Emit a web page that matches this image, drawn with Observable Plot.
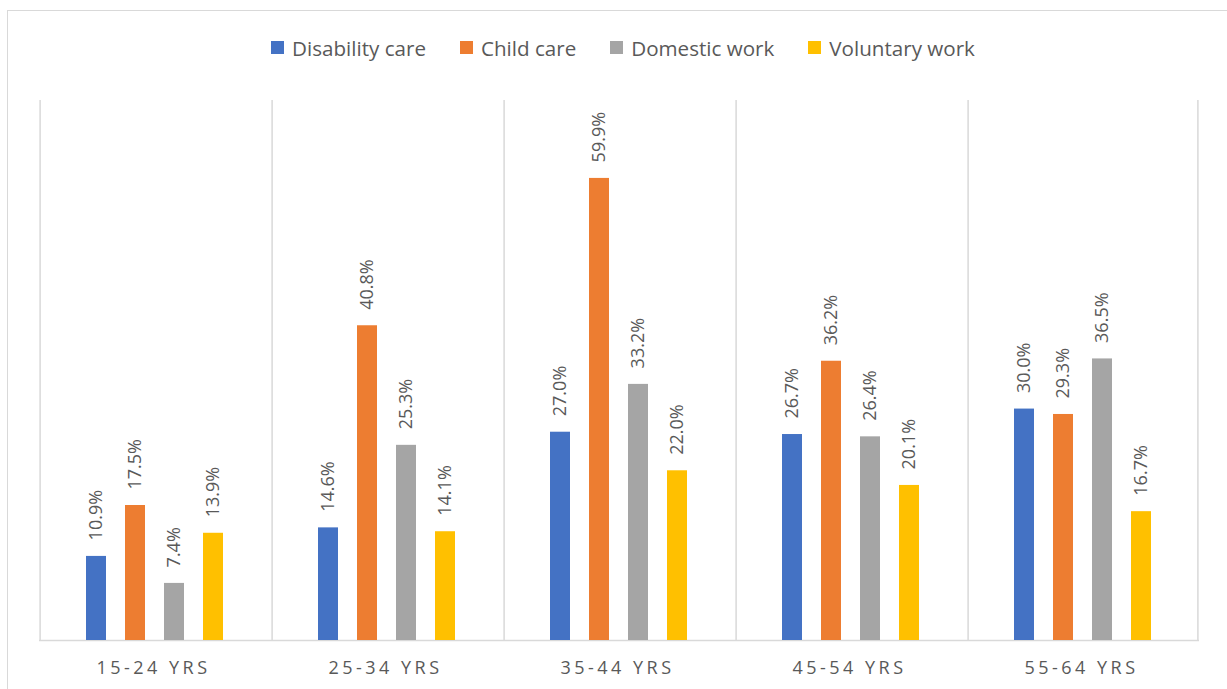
<!DOCTYPE html>
<html>
<head>
<meta charset="utf-8">
<script src="https://cdn.jsdelivr.net/npm/d3@7"></script>
<script src="https://cdn.jsdelivr.net/npm/@observablehq/plot@0.6"></script>
<style>
  html, body { margin: 0; padding: 0; background: #fff; overflow: hidden; width: 1227px; height: 689px; }
  #frame { position: absolute; left: 7px; top: 10px; width: 1400px; height: 900px;
           border-top: 1.5px solid #d9d9d9; border-left: 1.5px solid #d9d9d9; }
  #legend { position: absolute; left: 0; top: 31px; width: 1280px; }
  #legend .leg-swatches, #legend .leg-swatches-wrap { font-family: "Open Sans", sans-serif !important; font-size: 20.6px !important;
           color: #595959 !important; justify-content: center !important; margin: 0 !important; }
  #legend .leg-swatch { margin-right: 34px !important; }
  #legend .leg-swatch > svg { margin-right: 8px !important; }
  #chart { position: absolute; left: 0; top: 80px; }
</style>
</head>
<body>
<div id="frame"></div>
<div id="legend"></div>
<div id="chart"></div>
<script>
const ages = ["15-24 YRS", "25-34 YRS", "35-44 YRS", "45-54 YRS", "55-64 YRS"];
const types = ["Disability care", "Child care", "Domestic work", "Voluntary work"];
const disabilityCare = [10.9, 14.6, 27.0, 26.7, 30.0];
const childCare = [17.5, 40.8, 59.9, 36.2, 29.3];
const domesticWork = [7.4, 25.3, 33.2, 26.4, 36.5];
const voluntaryWork = [13.9, 14.1, 22.0, 20.1, 16.7];
const colors = ["#4472C4", "#ED7D31", "#A5A5A5", "#FFC000"];

const series = [disabilityCare, childCare, domesticWork, voluntaryWork];
const data = [];
ages.forEach((age, i) => types.forEach((type, j) => data.push({age, type, value: series[j][i]})));

const font = '"Open Sans", sans-serif';
const grid = "#d9d9d9";

const chart = Plot.plot({
  width: 1227,
  height: 609,
  marginLeft: 37,
  marginRight: 27,
  marginTop: 20,
  marginBottom: 49,
  style: {fontFamily: font, background: "transparent", overflow: "visible"},
  fx: {domain: ages, padding: 0, axis: null, label: null},
  x: {domain: types, paddingInner: 0.475, paddingOuter: 1.15, axis: null, label: null},
  y: {domain: [0, 70], axis: null, label: null},
  color: {domain: types, range: colors},
  marks: [
    Plot.ruleX(ages, {fx: d => d, x: () => types[0], dx: -56.4, y1: 0, y2: 70, stroke: grid, strokeWidth: 1.5}),
    Plot.ruleX([ages[ages.length - 1]], {fx: d => d, x: () => types[types.length - 1], dx: 56.4, y1: 0, y2: 70, stroke: grid, strokeWidth: 1.5}),
    Plot.ruleY([0], {stroke: grid, strokeWidth: 1.5}),
    Plot.barY(data, {fx: "age", x: "type", y: "value", fill: "type"}),
    Plot.text(data, {fx: "age", x: "type", y: "value", text: d => d3.format(".1f")(d.value) + "%",
      rotate: -90, textAnchor: "start", dy: -16, fill: "#595959", fontSize: 18, fontFamily: font}),
    Plot.text(ages, {fx: d => d, text: d => d, frameAnchor: "bottom", lineAnchor: "middle", dy: 28, dx: -2,
      fill: "#595959", fontSize: 18, fontFamily: font})
  ]
});
chart.querySelectorAll("text").forEach(t => {
  if (ages.includes(t.textContent)) t.style.letterSpacing = "3.5px";
});
document.getElementById("chart").appendChild(chart);

const legend = Plot.legend({color: {domain: types, range: colors}, legend: "swatches", swatchSize: 13, className: "leg"});
document.getElementById("legend").appendChild(legend);
</script>
</body>
</html>
